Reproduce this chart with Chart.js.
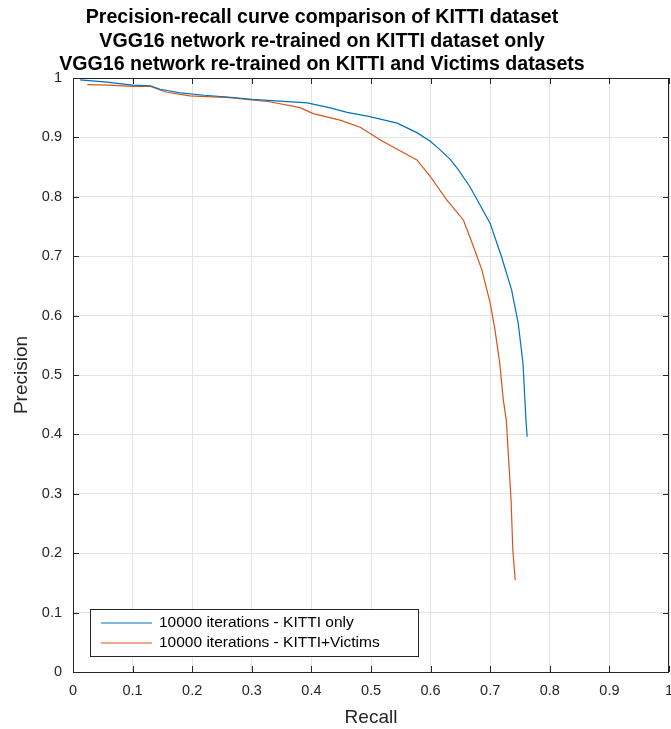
<!DOCTYPE html>
<html>
<head>
<meta charset="utf-8">
<script src="https://cdn.jsdelivr.net/npm/chart.js@4/dist/chart.umd.min.js"></script>
<style>
  html, body { margin: 0; padding: 0; background: #ffffff; }
  #wrap { width: 671px; height: 729px; position: relative; }
</style>
</head>
<body>
<div id="wrap"><canvas id="c" width="671" height="729"></canvas></div>
<script>
// ---- data ----
const TITLE_LINES = [
  "Precision-recall curve comparison of KITTI dataset",
  "VGG16 network re-trained on KITTI dataset only",
  "VGG16 network re-trained on KITTI and Victims datasets"
];
const X_LABEL = "Recall";
const Y_LABEL = "Precision";
const SERIES_NAMES = ["10000 iterations - KITTI only", "10000 iterations - KITTI+Victims"];
const TICK_VALUES = [0, 0.1, 0.2, 0.3, 0.4, 0.5, 0.6, 0.7, 0.8, 0.9, 1];
const TICK_LABELS = ["0", "0.1", "0.2", "0.3", "0.4", "0.5", "0.6", "0.7", "0.8", "0.9", "1"];

const kittiRecall = [0.012, 0.057, 0.1, 0.13, 0.146, 0.18, 0.22, 0.26, 0.30, 0.347, 0.393, 0.43, 0.46, 0.498, 0.544, 0.577, 0.60, 0.616, 0.633, 0.647, 0.666, 0.70, 0.719, 0.736, 0.747, 0.755, 0.760, 0.762];
const kittiPrecision = [0.997, 0.993, 0.988, 0.987, 0.981, 0.975, 0.971, 0.968, 0.964, 0.961, 0.958, 0.950, 0.942, 0.935, 0.924, 0.908, 0.893, 0.879, 0.863, 0.845, 0.817, 0.755, 0.699, 0.643, 0.587, 0.520, 0.424, 0.396];

const victimsRecall = [0.024, 0.06, 0.1, 0.13, 0.157, 0.196, 0.263, 0.33, 0.381, 0.403, 0.448, 0.482, 0.515, 0.544, 0.577, 0.599, 0.627, 0.655, 0.672, 0.686, 0.70, 0.708, 0.716, 0.722, 0.727, 0.730, 0.735, 0.738, 0.742];
const victimsPrecision = [0.989, 0.988, 0.986, 0.986, 0.976, 0.970, 0.967, 0.960, 0.950, 0.940, 0.929, 0.917, 0.896, 0.880, 0.862, 0.835, 0.795, 0.761, 0.716, 0.677, 0.621, 0.576, 0.520, 0.458, 0.424, 0.374, 0.290, 0.205, 0.155];

const COLORS = ["#0072BD", "#D95319"];
const FONT = "'Liberation Sans', Arial, Helvetica, sans-serif";
const AXIS_COLOR = "#262626";

function toPoints(xs, ys) { return xs.map((x, i) => ({ x: x, y: ys[i] })); }

// multi-line title
const titlePlugin = {
  id: 'mlTitle',
  afterDraw(chart) {
    const { ctx } = chart;
    ctx.save();
    ctx.font = "bold 19.6px " + FONT;
    ctx.fillStyle = '#000000';
    ctx.textAlign = 'center';
    ctx.textBaseline = 'alphabetic';
    TITLE_LINES.forEach((t, i) => ctx.fillText(t, 322, 23 + i * 23.5));
    ctx.restore();
  }
};

// frame with inward ticks on all four sides
const framePlugin = {
  id: 'frame',
  afterDatasetsDraw(chart) {
    const { ctx, chartArea: a, scales } = chart;
    ctx.save();
    ctx.strokeStyle = AXIS_COLOR;
    ctx.lineWidth = 1;
    ctx.beginPath();
    ctx.rect(Math.round(a.left) + 0.5, Math.round(a.top) + 0.5, Math.round(a.right - a.left) - 1, Math.round(a.bottom - a.top));
    ctx.stroke();
    const tl = 6;
    ctx.beginPath();
    TICK_VALUES.forEach(v => {
      const px = Math.round(scales.x.getPixelForValue(v)) + 0.5;
      ctx.moveTo(px, a.bottom); ctx.lineTo(px, a.bottom - tl);
      ctx.moveTo(px, a.top); ctx.lineTo(px, a.top + tl);
      const py = Math.round(scales.y.getPixelForValue(v)) + 0.5;
      ctx.moveTo(a.left, py); ctx.lineTo(a.left + tl, py);
      ctx.moveTo(a.right, py); ctx.lineTo(a.right - tl, py);
    });
    ctx.stroke();
    ctx.restore();
  }
};

// legend box in the lower left of the plot area
const legendBoxPlugin = {
  id: 'legendBox',
  afterDraw(chart) {
    const { ctx, chartArea: a } = chart;
    const x0 = a.left + 17, y1 = a.bottom - 16;
    const w = 328, h = 47;
    const y0 = y1 - h;
    ctx.save();
    ctx.fillStyle = '#ffffff';
    ctx.fillRect(x0, y0, w, h);
    ctx.strokeStyle = AXIS_COLOR;
    ctx.lineWidth = 1;
    ctx.strokeRect(Math.round(x0) + 0.5, Math.round(y0) + 0.5, w, h);
    ctx.font = "15.5px " + FONT;
    ctx.textBaseline = 'middle';
    ctx.textAlign = 'left';
    chart.data.datasets.forEach((ds, i) => {
      const ry = y0 + 14 + i * 20;
      ctx.strokeStyle = ds.borderColor;
      ctx.lineWidth = 1.2;
      ctx.beginPath();
      ctx.moveTo(x0 + 11, ry); ctx.lineTo(x0 + 62, ry);
      ctx.stroke();
      ctx.fillStyle = '#000000';
      ctx.fillText(ds.label, x0 + 69, ry);
    });
    ctx.restore();
  }
};

new Chart(document.getElementById('c'), {
  type: 'line',
  data: {
    datasets: [
      { label: SERIES_NAMES[0], data: toPoints(kittiRecall, kittiPrecision), borderColor: COLORS[0], backgroundColor: COLORS[0], borderWidth: 1.2, pointRadius: 0, tension: 0, fill: false },
      { label: SERIES_NAMES[1], data: toPoints(victimsRecall, victimsPrecision), borderColor: COLORS[1], backgroundColor: COLORS[1], borderWidth: 1.2, pointRadius: 0, tension: 0, fill: false }
    ]
  },
  options: {
    responsive: false,
    animation: false,
    devicePixelRatio: 1,
    layout: { padding: { left: 0, right: 2, top: 78, bottom: 0 } },
    plugins: {
      legend: { display: false },
      tooltip: { enabled: false },
      title: { display: false }
    },
    scales: {
      x: {
        type: 'linear',
        min: 0, max: 1,
        afterBuildTicks(scale) { scale.ticks = TICK_VALUES.map(v => ({ value: v })); },
        afterFit(scale) { scale.height = 57; scale.paddingLeft = 0; scale.paddingRight = 0; },
        ticks: {
          color: AXIS_COLOR,
          font: { family: FONT, size: 14.5 },
          padding: 10.5,
          maxRotation: 0,
          autoSkip: false,
          callback: (v, i) => TICK_LABELS[i]
        },
        grid: { color: '#e3e3e3', lineWidth: 1, drawTicks: false },
        border: { display: false },
        title: {
          display: true, text: X_LABEL, color: AXIS_COLOR,
          font: { family: FONT, size: 19, lineHeight: 1.2 },
          padding: { top: 0, bottom: 0 }
        }
      },
      y: {
        type: 'linear',
        min: 0, max: 1,
        afterBuildTicks(scale) { scale.ticks = TICK_VALUES.map(v => ({ value: v })); },
        afterFit(scale) { scale.width = 73; scale.paddingTop = 0; scale.paddingBottom = 0; },
        ticks: {
          color: AXIS_COLOR,
          font: { family: FONT, size: 14.5 },
          padding: 11,
          autoSkip: false,
          callback: (v, i) => TICK_LABELS[i]
        },
        grid: { color: '#e3e3e3', lineWidth: 1, drawTicks: false },
        border: { display: false },
        title: {
          display: true, text: Y_LABEL, color: AXIS_COLOR,
          font: { family: FONT, size: 19, lineHeight: 1.2 },
          padding: { top: 10.6, bottom: 0 }
        }
      }
    }
  },
  plugins: [framePlugin, legendBoxPlugin, titlePlugin]
});
</script>
</body>
</html>
